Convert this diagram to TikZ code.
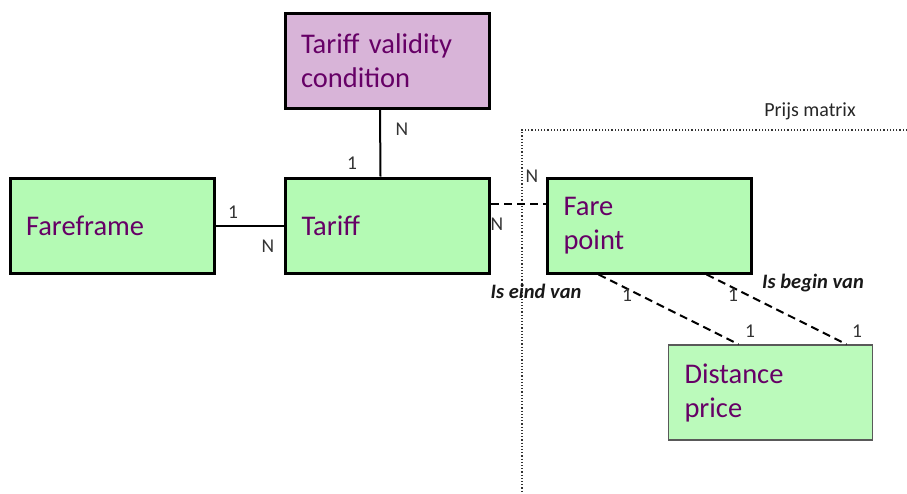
\documentclass[tikz,border=0pt]{standalone}
\usepackage{fontspec}
\setmainfont{Carlito}
\usepackage{tikz}
\usetikzlibrary{positioning}
\definecolor{entgreen}{RGB}{180,250,180}
\definecolor{entlight}{RGB}{187,250,187}
\definecolor{condpink}{RGB}{216,180,216}
\definecolor{entpurple}{RGB}{102,0,102}
\tikzset{
	entity/.style={draw, line width=3pt, fill=entgreen, text=entpurple,
		text width=172pt, inner xsep=16pt, minimum height=95pt, align=left,
		font=\fontsize{28.5}{34}\selectfont},
	card/.style={text=black!80, inner sep=0pt, font=\fontsize{19.5}{22}\selectfont},
	role/.style={text=black!90, inner sep=0pt, font=\fontsize{20.5}{24}\selectfont\bfseries\itshape},
	rel/.style={line width=2pt},
	weakrel/.style={line width=2pt, dash pattern=on 8pt off 5pt}
}

\begin{document}
\begin{tikzpicture}[x=1pt,y=-1pt]
\useasboundingbox (0,0) rectangle (907,493);
\node (tvc) [entity,fill=condpink,yshift=-1.5pt] at (387,59.5) {Tariff validity condition};
\node (fareframe) [entity] at (112,225.5) {Fareframe};
\node (tariff) [entity] at (387.5,225.5) {Tariff};
\node (farepoint) [entity] at (649.5,225.5) {Fare\\point};
\node (distprice) [entity,fill=entlight,line width=1.4pt,draw=black!65] at (770.5,392.5) {Distance\\price};
% prijs matrix frame
\draw[dotted, line width=1.2pt, black!80] (907,130) -- (522,130) -- (522,493);
\node (matrixlabel) [text=black!85, inner sep=0pt, font=\fontsize{20}{22}\selectfont] at (810,111) {Prijs matrix};
% relations
\draw[rel] ([xshift=-7pt]tvc.south) -- ([xshift=-7pt]tariff.north);
\draw[rel] (fareframe.east) -- (tariff.west);
\draw[weakrel] ([yshift=22pt]tariff.east) -- ([yshift=22pt]farepoint.west);
\draw[weakrel] ([xshift=-51pt]farepoint.south) -- ([xshift=-32pt]distprice.north);
\draw[weakrel] ([xshift=57pt]farepoint.south) -- ([xshift=76pt]distprice.north);
% cardinalities
\node (tvcN) [card] at (402,129) {N};
\node (tvc1) [card] at (352,163) {1};
\node (ff1) [card] at (233,212) {1};
\node (ffN) [card] at (268,246) {N};
\node (fpN) [card] at (532,176) {N};
\node (trN) [card] at (497,224) {N};
\node (eind1) [card] at (627,295) {1};
\node (begin1) [card] at (733,295) {1};
\node (dpEind1) [card] at (750,331) {1};
\node (dpBegin1) [card] at (857,331) {1};
\node (eind) [role] at (536,291) {Is eind van};
\node (begin) [role] at (813,283) {Is begin van};
\end{tikzpicture}
\end{document}
